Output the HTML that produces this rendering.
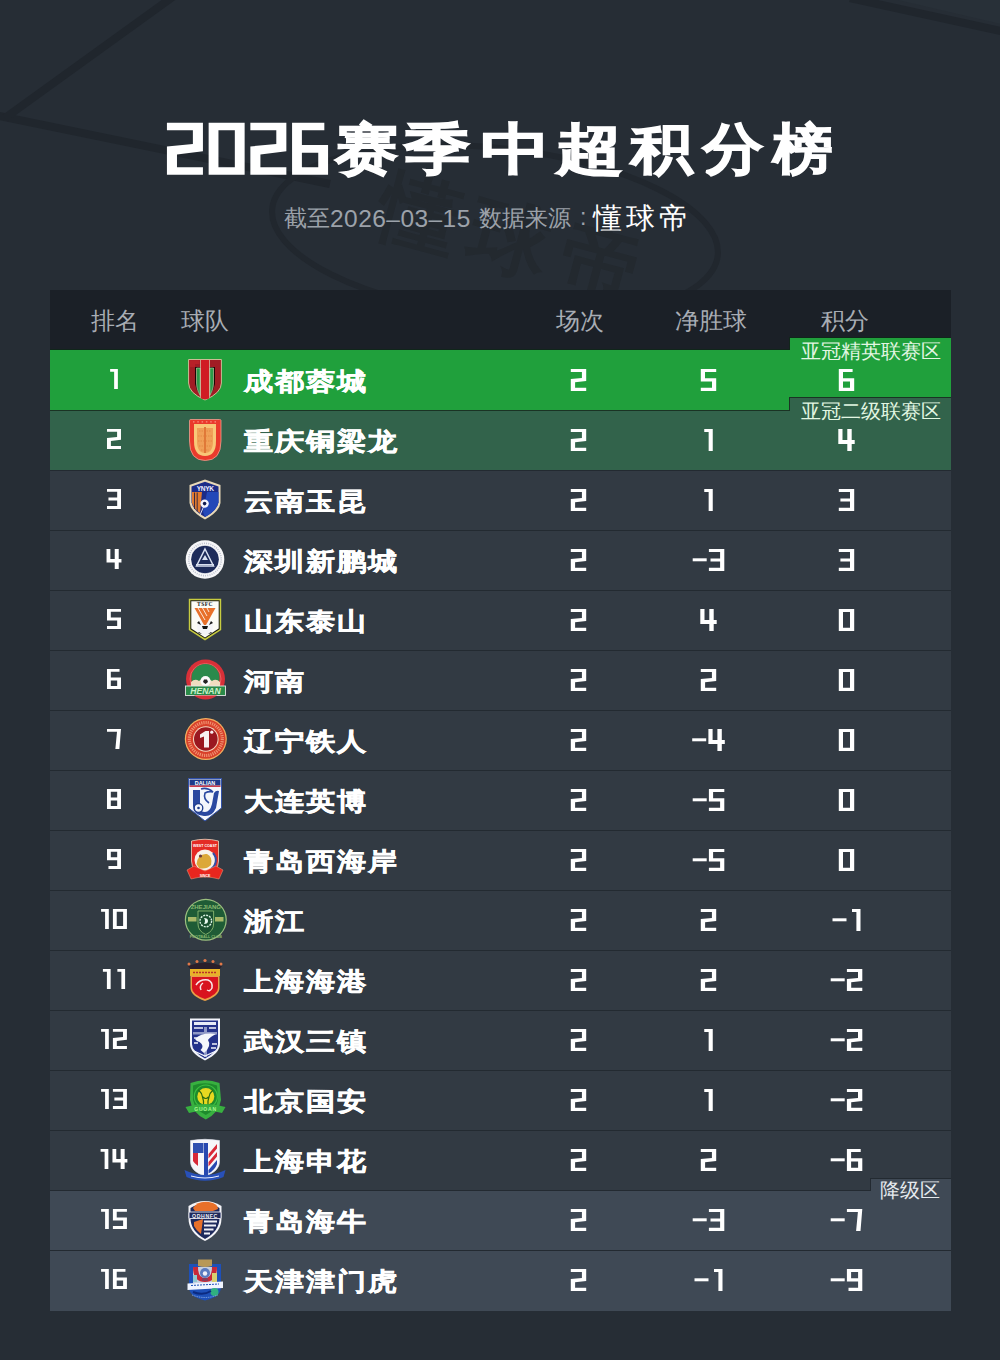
<!DOCTYPE html>
<html><head><meta charset="utf-8"><style>
html,body{margin:0;padding:0;}
body{width:1000px;height:1360px;position:relative;overflow:hidden;background:#262d35;font-family:"Liberation Sans",sans-serif;}
.abs{position:absolute;white-space:nowrap;}
.title{left:0;top:0;}
.tn{position:absolute;left:244px;font-size:29.5px;font-weight:bold;color:#fff;letter-spacing:1px;line-height:30px;-webkit-text-stroke:0.6px #fff;transform:scaleY(0.86);transform-origin:0 50%;}
.hd{position:absolute;top:306px;font-size:24px;color:#a8adb4;line-height:30px;}
.lab{position:absolute;left:801px;font-size:19.7px;color:#e2f6e2;line-height:22px;}
</style></head><body>
<svg class="abs" style="left:0;top:0" width="1000" height="1360">
<path d="M855,-10 L1010,-10 L1010,26 Z" fill="#283038"/>
<g fill="none" stroke="#20262d" stroke-width="8">
<path d="M-10,114 L330,184"/>
<path d="M174,-4 L5,118"/>
<path d="M850,-2 L1010,33"/>
</g>
<g transform="rotate(6 495 232)">
<ellipse cx="495" cy="232" rx="224" ry="84" fill="none" stroke="#21272e" stroke-width="6"/>
</g>
<text x="518" y="268" font-size="80" font-weight="bold" text-anchor="middle" fill="#23292f" letter-spacing="14" transform="rotate(15 518 236)">懂球帝</text>
</svg>
<div class="abs" style="left:326.8px;top:118px;width:80px;text-align:center;font-size:63px;font-weight:bold;color:#fff;line-height:70px;-webkit-text-stroke:1.5px #fff;transform:scale(1.010,0.88);transform-origin:50% 0;">赛</div>
<div class="abs" style="left:396.6px;top:118px;width:80px;text-align:center;font-size:63px;font-weight:bold;color:#fff;line-height:70px;-webkit-text-stroke:1.5px #fff;transform:scale(1.057,0.88);transform-origin:50% 0;">季</div>
<div class="abs" style="left:476.3px;top:118px;width:80px;text-align:center;font-size:63px;font-weight:bold;color:#fff;line-height:70px;-webkit-text-stroke:1.5px #fff;transform:scale(1.107,0.88);transform-origin:50% 0;">中</div>
<div class="abs" style="left:549.9px;top:118px;width:80px;text-align:center;font-size:63px;font-weight:bold;color:#fff;line-height:70px;-webkit-text-stroke:1.5px #fff;transform:scale(1.074,0.88);transform-origin:50% 0;">超</div>
<div class="abs" style="left:621.5px;top:118px;width:80px;text-align:center;font-size:63px;font-weight:bold;color:#fff;line-height:70px;-webkit-text-stroke:1.5px #fff;transform:scale(0.985,0.88);transform-origin:50% 0;">积</div>
<div class="abs" style="left:693.0px;top:118px;width:80px;text-align:center;font-size:63px;font-weight:bold;color:#fff;line-height:70px;-webkit-text-stroke:1.5px #fff;transform:scale(0.960,0.88);transform-origin:50% 0;">分</div>
<div class="abs" style="left:763.4px;top:118px;width:80px;text-align:center;font-size:63px;font-weight:bold;color:#fff;line-height:70px;-webkit-text-stroke:1.5px #fff;transform:scale(0.950,0.88);transform-origin:50% 0;">榜</div>
<div class="abs" style="left:284px;top:203px;font-size:23px;color:#9ca2aa;line-height:30px;">截至</div><div class="abs" style="left:330px;top:203.7px;font-size:24.5px;color:#9ca2aa;line-height:30px;letter-spacing:0.45px">2026–03–15</div><div class="abs" style="left:479px;top:203px;font-size:23px;color:#9ca2aa;line-height:30px;">数据来源</div><div class="abs" style="left:580px;top:202px;font-size:23px;color:#9ca2aa;line-height:30px;">:</div>
<div class="abs" style="left:593px;top:201px;font-size:29px;color:#fff;line-height:34px;letter-spacing:4px;">懂球帝</div>
<div class="abs" style="left:50px;top:290px;width:901px;height:60px;background:#1b2027"></div>
<div class="abs" style="left:50px;top:350px;width:901px;height:60px;background:#20a03c"></div>
<div class="abs" style="left:50px;top:410px;width:901px;height:60px;background:#32634b"></div>
<div class="abs" style="left:50px;top:410px;width:740px;height:1px;background:#1a3324"></div>
<div class="abs" style="left:50px;top:470px;width:901px;height:60px;background:#323a43"></div>
<div class="abs" style="left:50px;top:470px;width:901px;height:1px;background:#232a31"></div>
<div class="abs" style="left:50px;top:530px;width:901px;height:60px;background:#323a43"></div>
<div class="abs" style="left:50px;top:530px;width:901px;height:1px;background:#232a31"></div>
<div class="abs" style="left:50px;top:590px;width:901px;height:60px;background:#323a43"></div>
<div class="abs" style="left:50px;top:590px;width:901px;height:1px;background:#232a31"></div>
<div class="abs" style="left:50px;top:650px;width:901px;height:60px;background:#323a43"></div>
<div class="abs" style="left:50px;top:650px;width:901px;height:1px;background:#232a31"></div>
<div class="abs" style="left:50px;top:710px;width:901px;height:60px;background:#323a43"></div>
<div class="abs" style="left:50px;top:710px;width:901px;height:1px;background:#232a31"></div>
<div class="abs" style="left:50px;top:770px;width:901px;height:60px;background:#323a43"></div>
<div class="abs" style="left:50px;top:770px;width:901px;height:1px;background:#232a31"></div>
<div class="abs" style="left:50px;top:830px;width:901px;height:60px;background:#323a43"></div>
<div class="abs" style="left:50px;top:830px;width:901px;height:1px;background:#232a31"></div>
<div class="abs" style="left:50px;top:890px;width:901px;height:60px;background:#323a43"></div>
<div class="abs" style="left:50px;top:890px;width:901px;height:1px;background:#232a31"></div>
<div class="abs" style="left:50px;top:950px;width:901px;height:60px;background:#323a43"></div>
<div class="abs" style="left:50px;top:950px;width:901px;height:1px;background:#232a31"></div>
<div class="abs" style="left:50px;top:1010px;width:901px;height:60px;background:#323a43"></div>
<div class="abs" style="left:50px;top:1010px;width:901px;height:1px;background:#232a31"></div>
<div class="abs" style="left:50px;top:1070px;width:901px;height:60px;background:#323a43"></div>
<div class="abs" style="left:50px;top:1070px;width:901px;height:1px;background:#232a31"></div>
<div class="abs" style="left:50px;top:1130px;width:901px;height:60px;background:#323a43"></div>
<div class="abs" style="left:50px;top:1130px;width:901px;height:1px;background:#232a31"></div>
<div class="abs" style="left:50px;top:1190px;width:901px;height:60px;background:#3f4955"></div>
<div class="abs" style="left:50px;top:1190px;width:821px;height:1px;background:#232a31"></div>
<div class="abs" style="left:50px;top:1250px;width:901px;height:61px;background:#3f4955"></div>
<div class="abs" style="left:50px;top:1250px;width:901px;height:1px;background:#232a31"></div>
<div class="abs" style="left:790px;top:338px;width:161px;height:12px;background:#20a03c"></div>
<div class="abs" style="left:50px;top:349px;width:740px;height:1px;background:#10261a"></div>
<div class="abs" style="left:789px;top:337px;width:162px;height:1px;background:#10261a"></div>
<div class="abs" style="left:789px;top:337px;width:1px;height:13px;background:#10261a"></div>
<div class="abs" style="left:790px;top:398px;width:161px;height:12px;background:#32634b"></div>
<div class="abs" style="left:789px;top:397px;width:162px;height:1px;background:#1a3324"></div>
<div class="abs" style="left:789px;top:397px;width:1px;height:13px;background:#1a3324"></div>
<div class="abs" style="left:871px;top:1179px;width:80px;height:11px;background:#3f4955"></div>
<div class="abs" style="left:870px;top:1178px;width:81px;height:1px;background:#232a31"></div>
<div class="abs" style="left:870px;top:1178px;width:1px;height:12px;background:#232a31"></div>
<div class="hd" style="left:91.0px;width:48px;text-align:center">排名</div>
<div class="hd" style="left:556.0px;width:48px;text-align:center">场次</div>
<div class="hd" style="left:675.0px;width:72px;text-align:center">净胜球</div>
<div class="hd" style="left:821.0px;width:48px;text-align:center">积分</div>
<div class="hd" style="left:181px">球队</div>
<div class="lab" style="top:340px">亚冠精英联赛区</div>
<div class="lab" style="top:400px">亚冠二级联赛区</div>
<div class="lab" style="top:1179px;left:880px;color:#e6eaee">降级区</div>
<div class="tn" style="top:366px">成都蓉城</div>
<div class="tn" style="top:426px">重庆铜梁龙</div>
<div class="tn" style="top:486px">云南玉昆</div>
<div class="tn" style="top:546px">深圳新鹏城</div>
<div class="tn" style="top:606px">山东泰山</div>
<div class="tn" style="top:666px">河南</div>
<div class="tn" style="top:726px">辽宁铁人</div>
<div class="tn" style="top:786px">大连英博</div>
<div class="tn" style="top:846px">青岛西海岸</div>
<div class="tn" style="top:906px">浙江</div>
<div class="tn" style="top:966px">上海海港</div>
<div class="tn" style="top:1026px">武汉三镇</div>
<div class="tn" style="top:1086px">北京国安</div>
<div class="tn" style="top:1146px">上海申花</div>
<div class="tn" style="top:1206px">青岛海牛</div>
<div class="tn" style="top:1266px">天津津门虎</div>
<svg class="abs" style="left:0;top:0" width="1000" height="1360"><g fill="#fff"><path transform="translate(166.93,122.80) scale(2.3377,2.3636)" d="M0,0H15.4V12L4.3,13.4V18.8H15.4V22H0V10L11.1,9V3.2H0Z"/><path transform="translate(208.64,122.80) scale(2.3377,2.3636)" d="M0,0H15.4V22H0Z M4.2,3.2V18.8H11.2V3.2Z"/><path transform="translate(250.36,122.80) scale(2.3377,2.3636)" d="M0,0H15.4V12L4.3,13.4V18.8H15.4V22H0V10L11.1,9V3.2H0Z"/><path transform="translate(292.07,122.80) scale(2.3377,2.3636)" d="M0,0H13.8V3.2H4.2V9.4H15.4V22H0Z M4.2,12.7V18.8H11.2V12.7Z"/><path transform="translate(110.13,368.90) scale(0.9100,0.9100)" d="M0,0H8.5V22H4.4V3H0Z"/><path transform="translate(570.80,368.90) scale(1.0000,1.0000)" d="M0,0H15.4V12L4.3,13.4V18.8H15.4V22H0V10L11.1,9V3.2H0Z"/><path transform="translate(700.80,368.90) scale(1.0000,1.0000)" d="M0,0H15.4V3.2H4.2V9.4H15.4V22H0V18.8H11.2V12.7H0Z"/><path transform="translate(838.80,368.90) scale(1.0000,1.0000)" d="M0,0H13.8V3.2H4.2V9.4H15.4V22H0Z M4.2,12.7V18.8H11.2V12.7Z"/><path transform="translate(106.99,428.90) scale(0.9100,0.9100)" d="M0,0H15.4V12L4.3,13.4V18.8H15.4V22H0V10L11.1,9V3.2H0Z"/><path transform="translate(570.80,428.90) scale(1.0000,1.0000)" d="M0,0H15.4V12L4.3,13.4V18.8H15.4V22H0V10L11.1,9V3.2H0Z"/><path transform="translate(704.25,428.90) scale(1.0000,1.0000)" d="M0,0H8.5V22H4.4V3H0Z"/><path transform="translate(838.30,428.90) scale(1.0000,1.0000)" d="M0,0H4.2V11H9V0H13.4V11H16.4V15H13.4V22H9V15H0Z"/><path transform="translate(106.99,488.90) scale(0.9100,0.9100)" d="M0,0H15.4V22H0V18.8H11.2V12.7H1.6V9.5H11.2V3.2H0Z"/><path transform="translate(570.80,488.90) scale(1.0000,1.0000)" d="M0,0H15.4V12L4.3,13.4V18.8H15.4V22H0V10L11.1,9V3.2H0Z"/><path transform="translate(704.25,488.90) scale(1.0000,1.0000)" d="M0,0H8.5V22H4.4V3H0Z"/><path transform="translate(838.80,488.90) scale(1.0000,1.0000)" d="M0,0H15.4V22H0V18.8H11.2V12.7H1.6V9.5H11.2V3.2H0Z"/><path transform="translate(106.54,548.90) scale(0.9100,0.9100)" d="M0,0H4.2V11H9V0H13.4V11H16.4V15H13.4V22H9V15H0Z"/><path transform="translate(570.80,548.90) scale(1.0000,1.0000)" d="M0,0H15.4V12L4.3,13.4V18.8H15.4V22H0V10L11.1,9V3.2H0Z"/><path transform="translate(692.70,548.90) scale(1.0000,1.0000)" d="M0,9.4H14V12.4H0Z"/><path transform="translate(708.90,548.90) scale(1.0000,1.0000)" d="M0,0H15.4V22H0V18.8H11.2V12.7H1.6V9.5H11.2V3.2H0Z"/><path transform="translate(838.80,548.90) scale(1.0000,1.0000)" d="M0,0H15.4V22H0V18.8H11.2V12.7H1.6V9.5H11.2V3.2H0Z"/><path transform="translate(106.99,608.90) scale(0.9100,0.9100)" d="M0,0H15.4V3.2H4.2V9.4H15.4V22H0V18.8H11.2V12.7H0Z"/><path transform="translate(570.80,608.90) scale(1.0000,1.0000)" d="M0,0H15.4V12L4.3,13.4V18.8H15.4V22H0V10L11.1,9V3.2H0Z"/><path transform="translate(700.30,608.90) scale(1.0000,1.0000)" d="M0,0H4.2V11H9V0H13.4V11H16.4V15H13.4V22H9V15H0Z"/><path transform="translate(838.80,608.90) scale(1.0000,1.0000)" d="M0,0H15.4V22H0Z M4.2,3.2V18.8H11.2V3.2Z"/><path transform="translate(106.99,668.90) scale(0.9100,0.9100)" d="M0,0H13.8V3.2H4.2V9.4H15.4V22H0Z M4.2,12.7V18.8H11.2V12.7Z"/><path transform="translate(570.80,668.90) scale(1.0000,1.0000)" d="M0,0H15.4V12L4.3,13.4V18.8H15.4V22H0V10L11.1,9V3.2H0Z"/><path transform="translate(700.80,668.90) scale(1.0000,1.0000)" d="M0,0H15.4V12L4.3,13.4V18.8H15.4V22H0V10L11.1,9V3.2H0Z"/><path transform="translate(838.80,668.90) scale(1.0000,1.0000)" d="M0,0H15.4V22H0Z M4.2,3.2V18.8H11.2V3.2Z"/><path transform="translate(106.99,728.90) scale(0.9100,0.9100)" d="M0,0H15.4L13.6,22H9.2L11,3.2H0Z"/><path transform="translate(570.80,728.90) scale(1.0000,1.0000)" d="M0,0H15.4V12L4.3,13.4V18.8H15.4V22H0V10L11.1,9V3.2H0Z"/><path transform="translate(692.20,728.90) scale(1.0000,1.0000)" d="M0,9.4H14V12.4H0Z"/><path transform="translate(708.40,728.90) scale(1.0000,1.0000)" d="M0,0H4.2V11H9V0H13.4V11H16.4V15H13.4V22H9V15H0Z"/><path transform="translate(838.80,728.90) scale(1.0000,1.0000)" d="M0,0H15.4V22H0Z M4.2,3.2V18.8H11.2V3.2Z"/><path transform="translate(106.99,788.90) scale(0.9100,0.9100)" d="M0,0H15.4V22H0Z M4.2,3.2V9.4H11.2V3.2Z M4.2,12.7V18.8H11.2V12.7Z"/><path transform="translate(570.80,788.90) scale(1.0000,1.0000)" d="M0,0H15.4V12L4.3,13.4V18.8H15.4V22H0V10L11.1,9V3.2H0Z"/><path transform="translate(692.70,788.90) scale(1.0000,1.0000)" d="M0,9.4H14V12.4H0Z"/><path transform="translate(708.90,788.90) scale(1.0000,1.0000)" d="M0,0H15.4V3.2H4.2V9.4H15.4V22H0V18.8H11.2V12.7H0Z"/><path transform="translate(838.80,788.90) scale(1.0000,1.0000)" d="M0,0H15.4V22H0Z M4.2,3.2V18.8H11.2V3.2Z"/><path transform="translate(106.99,848.90) scale(0.9100,0.9100)" d="M15.4,22H1.6V18.8H11.2V12.6H0V0H15.4Z M11.2,9.3V3.2H4.2V9.3Z"/><path transform="translate(570.80,848.90) scale(1.0000,1.0000)" d="M0,0H15.4V12L4.3,13.4V18.8H15.4V22H0V10L11.1,9V3.2H0Z"/><path transform="translate(692.70,848.90) scale(1.0000,1.0000)" d="M0,9.4H14V12.4H0Z"/><path transform="translate(708.90,848.90) scale(1.0000,1.0000)" d="M0,0H15.4V3.2H4.2V9.4H15.4V22H0V18.8H11.2V12.7H0Z"/><path transform="translate(838.80,848.90) scale(1.0000,1.0000)" d="M0,0H15.4V22H0Z M4.2,3.2V18.8H11.2V3.2Z"/><path transform="translate(101.08,908.90) scale(0.9100,0.9100)" d="M0,0H8.5V22H4.4V3H0Z"/><path transform="translate(112.91,908.90) scale(0.9100,0.9100)" d="M0,0H15.4V22H0Z M4.2,3.2V18.8H11.2V3.2Z"/><path transform="translate(570.80,908.90) scale(1.0000,1.0000)" d="M0,0H15.4V12L4.3,13.4V18.8H15.4V22H0V10L11.1,9V3.2H0Z"/><path transform="translate(700.80,908.90) scale(1.0000,1.0000)" d="M0,0H15.4V12L4.3,13.4V18.8H15.4V22H0V10L11.1,9V3.2H0Z"/><path transform="translate(832.50,908.90) scale(1.0000,1.0000)" d="M0,9.4H14V12.4H0Z"/><path transform="translate(852.00,908.90) scale(1.0000,1.0000)" d="M0,0H8.5V22H4.4V3H0Z"/><path transform="translate(102.90,968.90) scale(0.9100,0.9100)" d="M0,0H8.5V22H4.4V3H0Z"/><path transform="translate(117.37,968.90) scale(0.9100,0.9100)" d="M0,0H8.5V22H4.4V3H0Z"/><path transform="translate(570.80,968.90) scale(1.0000,1.0000)" d="M0,0H15.4V12L4.3,13.4V18.8H15.4V22H0V10L11.1,9V3.2H0Z"/><path transform="translate(700.80,968.90) scale(1.0000,1.0000)" d="M0,0H15.4V12L4.3,13.4V18.8H15.4V22H0V10L11.1,9V3.2H0Z"/><path transform="translate(830.70,968.90) scale(1.0000,1.0000)" d="M0,9.4H14V12.4H0Z"/><path transform="translate(846.90,968.90) scale(1.0000,1.0000)" d="M0,0H15.4V12L4.3,13.4V18.8H15.4V22H0V10L11.1,9V3.2H0Z"/><path transform="translate(101.08,1028.90) scale(0.9100,0.9100)" d="M0,0H8.5V22H4.4V3H0Z"/><path transform="translate(112.91,1028.90) scale(0.9100,0.9100)" d="M0,0H15.4V12L4.3,13.4V18.8H15.4V22H0V10L11.1,9V3.2H0Z"/><path transform="translate(570.80,1028.90) scale(1.0000,1.0000)" d="M0,0H15.4V12L4.3,13.4V18.8H15.4V22H0V10L11.1,9V3.2H0Z"/><path transform="translate(704.25,1028.90) scale(1.0000,1.0000)" d="M0,0H8.5V22H4.4V3H0Z"/><path transform="translate(830.70,1028.90) scale(1.0000,1.0000)" d="M0,9.4H14V12.4H0Z"/><path transform="translate(846.90,1028.90) scale(1.0000,1.0000)" d="M0,0H15.4V12L4.3,13.4V18.8H15.4V22H0V10L11.1,9V3.2H0Z"/><path transform="translate(101.08,1088.90) scale(0.9100,0.9100)" d="M0,0H8.5V22H4.4V3H0Z"/><path transform="translate(112.91,1088.90) scale(0.9100,0.9100)" d="M0,0H15.4V22H0V18.8H11.2V12.7H1.6V9.5H11.2V3.2H0Z"/><path transform="translate(570.80,1088.90) scale(1.0000,1.0000)" d="M0,0H15.4V12L4.3,13.4V18.8H15.4V22H0V10L11.1,9V3.2H0Z"/><path transform="translate(704.25,1088.90) scale(1.0000,1.0000)" d="M0,0H8.5V22H4.4V3H0Z"/><path transform="translate(830.70,1088.90) scale(1.0000,1.0000)" d="M0,9.4H14V12.4H0Z"/><path transform="translate(846.90,1088.90) scale(1.0000,1.0000)" d="M0,0H15.4V12L4.3,13.4V18.8H15.4V22H0V10L11.1,9V3.2H0Z"/><path transform="translate(100.62,1148.90) scale(0.9100,0.9100)" d="M0,0H8.5V22H4.4V3H0Z"/><path transform="translate(112.45,1148.90) scale(0.9100,0.9100)" d="M0,0H4.2V11H9V0H13.4V11H16.4V15H13.4V22H9V15H0Z"/><path transform="translate(570.80,1148.90) scale(1.0000,1.0000)" d="M0,0H15.4V12L4.3,13.4V18.8H15.4V22H0V10L11.1,9V3.2H0Z"/><path transform="translate(700.80,1148.90) scale(1.0000,1.0000)" d="M0,0H15.4V12L4.3,13.4V18.8H15.4V22H0V10L11.1,9V3.2H0Z"/><path transform="translate(830.70,1148.90) scale(1.0000,1.0000)" d="M0,9.4H14V12.4H0Z"/><path transform="translate(846.90,1148.90) scale(1.0000,1.0000)" d="M0,0H13.8V3.2H4.2V9.4H15.4V22H0Z M4.2,12.7V18.8H11.2V12.7Z"/><path transform="translate(101.08,1208.90) scale(0.9100,0.9100)" d="M0,0H8.5V22H4.4V3H0Z"/><path transform="translate(112.91,1208.90) scale(0.9100,0.9100)" d="M0,0H15.4V3.2H4.2V9.4H15.4V22H0V18.8H11.2V12.7H0Z"/><path transform="translate(570.80,1208.90) scale(1.0000,1.0000)" d="M0,0H15.4V12L4.3,13.4V18.8H15.4V22H0V10L11.1,9V3.2H0Z"/><path transform="translate(692.70,1208.90) scale(1.0000,1.0000)" d="M0,9.4H14V12.4H0Z"/><path transform="translate(708.90,1208.90) scale(1.0000,1.0000)" d="M0,0H15.4V22H0V18.8H11.2V12.7H1.6V9.5H11.2V3.2H0Z"/><path transform="translate(830.70,1208.90) scale(1.0000,1.0000)" d="M0,9.4H14V12.4H0Z"/><path transform="translate(846.90,1208.90) scale(1.0000,1.0000)" d="M0,0H15.4L13.6,22H9.2L11,3.2H0Z"/><path transform="translate(101.08,1268.90) scale(0.9100,0.9100)" d="M0,0H8.5V22H4.4V3H0Z"/><path transform="translate(112.91,1268.90) scale(0.9100,0.9100)" d="M0,0H13.8V3.2H4.2V9.4H15.4V22H0Z M4.2,12.7V18.8H11.2V12.7Z"/><path transform="translate(570.80,1268.90) scale(1.0000,1.0000)" d="M0,0H15.4V12L4.3,13.4V18.8H15.4V22H0V10L11.1,9V3.2H0Z"/><path transform="translate(694.50,1268.90) scale(1.0000,1.0000)" d="M0,9.4H14V12.4H0Z"/><path transform="translate(714.00,1268.90) scale(1.0000,1.0000)" d="M0,0H8.5V22H4.4V3H0Z"/><path transform="translate(830.70,1268.90) scale(1.0000,1.0000)" d="M0,9.4H14V12.4H0Z"/><path transform="translate(846.90,1268.90) scale(1.0000,1.0000)" d="M15.4,22H1.6V18.8H11.2V12.6H0V0H15.4Z M11.2,9.3V3.2H4.2V9.3Z"/></g><g transform="translate(185,359)"><path d="M3.6,0.5H36.4V24Q36.4,34 20,41Q3.6,34 3.6,24Z" fill="#a01c24" stroke="#d8c8a0" stroke-width="0.9"/><path d="M10,8H15.5V37Q11,31 10,25Z" fill="#1a0606"/><path d="M24.5,8H30V25Q29,31 24.5,37Z" fill="#1a0606"/><path d="M11.5,9H15.2V36.5L13,32Q11.5,28 11.5,24Z" fill="#2a9a48" stroke="#d0d8b0" stroke-width="0.6"/><path d="M24.8,9H28.5V24Q28.5,28 27,32L24.8,36.5Z" fill="#2a9a48" stroke="#d0d8b0" stroke-width="0.6"/><path d="M16,1H24V39.5Q20,41 16,39.5Z" fill="#d01c24"/><path d="M4.5,1.2H14.5V5H10V8H4.5Z" fill="#b82028"/><path d="M15.5,1V38M24.5,1V38" stroke="#e0d0b0" stroke-width="0.7"/></g><g transform="translate(185,419)"><path d="M4.5,1.5Q4.5,0.5 6,0.5H34.5Q36,0.5 36,1.5V22Q36,41.5 20.2,41.5Q4.5,41.5 4.5,22Z" fill="#ea3a2c" stroke="#f0a090" stroke-width="0.8"/><path d="M9,5H31V22Q31,37 20,37Q9,37 9,22Z" fill="#f8c878"/><path d="M12,9H28V22Q28,34 20,34Q12,34 12,22Z" fill="#f0a058"/><path d="M14,12H26M13,17H27M13,22H27M14,27H26M16,31H24" stroke="#e8904a" stroke-width="1.4" stroke-dasharray="1.5 1"/><path d="M20,8V34" stroke="#e07838" stroke-width="2"/><path d="M8,2.8H32" stroke="#f89080" stroke-width="1.2" stroke-dasharray="1.5 2.8"/></g><g transform="translate(185,479)"><path d="M20,0.6L35.5,6V24Q34,33 20,40.5Q6,33 4.5,24V6Z" fill="#e8d8b8"/><path d="M20,2.8L33.5,7.4V23.5Q32,31.5 20,38Q8,31.5 6.5,23.5V7.4Z" fill="#1c2c88"/><path d="M7,13H17L15,34Q9,30 7,24Z" fill="#e07a30"/><path d="M9.5,13.5V30M12.2,13.5V32.5" stroke="#3a2a40" stroke-width="1"/><path d="M25,13L15,36" stroke="#f0f0ff" stroke-width="0.9"/><path d="M22,13H33.5V23.5Q32,31.5 20,38L18,33Z" fill="#2448b8"/><text x="20.2" y="12" font-size="6.6" font-weight="bold" text-anchor="middle" fill="#f0f0ff" font-family="Liberation Sans" letter-spacing="-0.3">YNYK</text><circle cx="19.6" cy="24.6" r="4.2" fill="#f4f4ff"/><circle cx="19.6" cy="24.6" r="1.8" fill="#101a50"/></g><g transform="translate(185,539)"><circle cx="20" cy="20.5" r="19.3" fill="#f6f6f8"/><circle cx="20" cy="20.5" r="16.2" fill="none" stroke="#b8bccb" stroke-width="1.6" stroke-dasharray="0.9 1.3"/><circle cx="20" cy="20.5" r="14" fill="#1d2b5a"/><circle cx="20" cy="20.5" r="14.3" fill="none" stroke="#ffffff" stroke-width="0.6"/><path d="M20,10L28.5,27H11.5Z" fill="none" stroke="#d8e0f0" stroke-width="1.5"/><path d="M17,21L20,16L23,21Z" fill="#d8e0f0"/><path d="M11,25.5H29" stroke="#d8e0f0" stroke-width="1"/></g><g transform="translate(185,599)"><path d="M3.8,-0.3H36.2V31L20,41.4L3.8,31Z" fill="#c8cc40"/><path d="M5.3,1.2H34.7V30.2L20,39.6L5.3,30.2Z" fill="#1a1a10"/><path d="M6.3,2.2H33.7V29.6L20,38.4L6.3,29.6Z" fill="#fbfbf6"/><text x="20" y="7" font-size="5.6" font-weight="bold" text-anchor="middle" fill="#1a1a1a" font-family="Liberation Serif" letter-spacing="0.4">TSFC</text><circle cx="20" cy="28" r="8" fill="#f4f4f8"/><path d="M9.5,9H30.5L21,26H19Z" fill="#e8702a"/><path d="M13,9L20,21M17.5,9L22,17M22,9L24,13" stroke="#fbe8d8" stroke-width="1"/><path d="M12,24L14,22L16,26Z M28,24L26,22L24,26Z M17,27H23L22,30H18Z M14,33L17,35L13,34Z M26,33L23,35L27,34Z" fill="#151515"/></g><g transform="translate(185,659)"><circle cx="20.5" cy="20" r="19.5" fill="#d83038"/><circle cx="20.5" cy="20" r="15.5" fill="none" stroke="#e86060" stroke-width="1"/><circle cx="20.5" cy="19" r="14" fill="#2a8a4c"/><path d="M6,23Q10,19 14,22Q17,19 20,21Q24,19 27,22Q31,19 35,23V28H6Z" fill="#f0dcc0"/><circle cx="20.5" cy="22" r="5" fill="#fafafa"/><path d="M19,20.5L22,20.5L23,23L20.5,25L18,23Z" fill="#222"/><rect x="0.5" y="27" width="40" height="9.5" fill="#2a8a48" stroke="#e4e4e4" stroke-width="0.9"/><text x="20.5" y="35.2" font-size="8.6" font-weight="bold" font-style="italic" text-anchor="middle" fill="#c8f0c8" font-family="Liberation Sans">HENAN</text><path d="M9,36.5H32Q27,40.5 20.5,40.5Q14,40.5 9,36.5Z" fill="#d83038"/></g><g transform="translate(185,719)"><circle cx="20.8" cy="20" r="21" fill="#f4b060"/><circle cx="20.8" cy="20" r="19.8" fill="#d8402a"/><circle cx="20.8" cy="20" r="16.5" fill="none" stroke="#f09070" stroke-width="3.2" stroke-dasharray="1.2 1"/><circle cx="20.8" cy="20" r="12.8" fill="#f4d8c0"/><circle cx="20.8" cy="20" r="11.8" fill="#9a1820"/><path d="M15,15.5L20.5,12H24V28.5H19V17.5L15,19Z" fill="#f8f0f0"/><circle cx="26.8" cy="13.2" r="1.6" fill="#f8f0f0"/></g><g transform="translate(185,779)"><path d="M3.5,-0.5H36.5V29L20,42L3.5,29Z" fill="#f4f6fb" stroke="#3050a8" stroke-width="1"/><path d="M4.5,0.5H35.5V6.5H4.5Z" fill="#1e3a8a"/><text x="20" y="5.6" font-size="5.4" font-weight="bold" text-anchor="middle" fill="#ffffff" font-family="Liberation Sans">DALIAN</text><rect x="4.5" y="6.5" width="31" height="1.4" fill="#c82a3a"/><path d="M8,11H15V27Q15,33 20,33Q25,33 27,25L29,14Q31,11 34,12L31,29Q27,38 19,37Q8,36 8,27Z" fill="#2a48a0"/><path d="M16,10Q22,8 28,13Q24,12 20,14Q18,20 24,24" fill="none" stroke="#2a48a0" stroke-width="1.6"/><circle cx="13.5" cy="29" r="4.3" fill="#f4f6fb" stroke="#1e3a8a" stroke-width="1.3"/><circle cx="13.5" cy="29" r="1.3" fill="#1e3a8a"/></g><g transform="translate(185,839)"><path d="M6.5,2Q20,-1.5 33.5,2V22Q33.5,32 20,38Q6.5,32 6.5,22Z" fill="#e42a24" stroke="#f0d8c0" stroke-width="0.8"/><text x="20" y="7.6" font-size="3.6" font-weight="bold" text-anchor="middle" fill="#fff" font-family="Liberation Sans">WEST COAST</text><circle cx="20" cy="21" r="10.5" fill="#f8f2e8"/><path d="M28,14A10.5,10.5 0 0 1 26,30" stroke="#3050a8" stroke-width="2" fill="none"/><path d="M11.5,25Q13,14 22,15Q28,18 26,26Q21,31 14,29Z" fill="#dca838"/><circle cx="15.5" cy="17" r="1.6" fill="#6a3a3a"/><path d="M2,31L9,27L20,32L31,27L38,31L34,40Q20,36 6,40Z" fill="#e8261e" stroke="#f0a080" stroke-width="0.5"/><text x="20" y="37.6" font-size="3.5" font-weight="bold" text-anchor="middle" fill="#fff" font-family="Liberation Sans">SINCE</text></g><g transform="translate(185,899)"><circle cx="20.8" cy="20.8" r="21" fill="#9cc080"/><circle cx="20.8" cy="20.8" r="19.8" fill="#1f5c36"/><text x="20.8" y="10" font-size="6" font-weight="bold" text-anchor="middle" fill="#8ab870" font-family="Liberation Sans">ZHEJIANG</text><path d="M13,12H28.6V25Q28.6,32 20.8,35.5Q13,32 13,25Z" fill="#1a5030" stroke="#8ab870" stroke-width="0.9"/><rect x="3" y="18" width="8.5" height="4.5" fill="#a8b868"/><rect x="30" y="18" width="8.5" height="4.5" fill="#a8b868"/><circle cx="20.8" cy="22" r="5.8" fill="none" stroke="#d8f0e0" stroke-width="1.4" stroke-dasharray="2 1"/><path d="M19,19Q23,19 23,22Q23,25 19,25Q21,22 19,19Z" fill="#e8f8f0"/><text x="20.8" y="38.5" font-size="3.8" font-weight="bold" text-anchor="middle" fill="#8ab870" font-family="Liberation Sans">FOOTBALL CLUB</text></g><g transform="translate(185,959)"><path d="M3,7Q20,0 37,7L34,11H6Z" fill="#2a1e2a"/><circle cx="4" cy="5" r="1.5" fill="#e07848"/><circle cx="12" cy="2.5" r="1.5" fill="#e07848"/><circle cx="20" cy="1.5" r="1.6" fill="#e07848"/><circle cx="28" cy="2.5" r="1.5" fill="#e07848"/><circle cx="36" cy="5" r="1.5" fill="#e07848"/><path d="M5,10H35V17H5Z" fill="#e8b428"/><path d="M8,13.5H32" stroke="#b8302a" stroke-width="1.6" stroke-dasharray="2 1"/><path d="M5.5,16.5H34.5V29Q34.5,37 20,42Q5.5,37 5.5,29Z" fill="#e8a048"/><path d="M7,18H33V29Q33,35.5 20,40Q7,35.5 7,29Z" fill="#d8141e"/><path d="M11,26Q15,20 23,21Q28,23 27,29Q25,33 22,31M18,24Q14,27 16,31" fill="none" stroke="#f8e8e8" stroke-width="1.5"/></g><g transform="translate(185,1019)"><path d="M5,-0.5H35V25Q35,34 20,41.5Q5,34 5,25Z" fill="#f2f4fa"/><path d="M7,1.5H33V25Q33,32.5 20,39.5Q7,32.5 7,25Z" fill="#24328a"/><rect x="9" y="3" width="22" height="3" fill="#e8ecf8"/><path d="M19,8H22V38H19Z M8,13H32V15.5H8Z" fill="#e8ecf8" opacity="0.55"/><path d="M9,9H18M9,19H14M9,24H13M24,9H31M27,25H32M26,29H31" stroke="#f0f2fa" stroke-width="1.3"/><path d="M10,20Q17,13 31,15Q25,18 23,21Q27,27 19,34L15.5,31Q20,27 14.5,23Q12,23 10,20Z" fill="#f4f6fb"/><path d="M9,32L20,37L31,32" fill="none" stroke="#f4f6fb" stroke-width="1.2"/></g><g transform="translate(185,1079)"><path d="M5.5,4Q20,-1.5 34.5,4L36,21Q34,34 20.8,40.5Q7,34 5,21Z" fill="#38b040"/><path d="M8,6.5Q20,2 32,6.5L33,21Q31,31 20.8,36Q10,31 8,21Z" fill="#1e8a2c"/><circle cx="20.8" cy="17.5" r="11.5" fill="none" stroke="#3cc040" stroke-width="1.2"/><circle cx="20.8" cy="17.5" r="8.5" fill="#e8d820"/><path d="M13.5,11Q17,14 17.5,18Q19,22 18.5,26M28,11Q24.5,14 24,18Q22.5,22 23,26M18,18Q20.8,21 23.5,18" fill="none" stroke="#2a6a10" stroke-width="1.2"/><path d="M0.5,28Q20,22 40.5,28L37,34Q20,29 4,34Z" fill="#38b040"/><text x="20.5" y="31.8" font-size="5" font-weight="bold" text-anchor="middle" fill="#a8f890" font-family="Liberation Sans" letter-spacing="0.8">GUOAN</text></g><g transform="translate(185,1139)"><path d="M5.5,1.5Q20,-1 34.5,1.5V23Q34.5,32 20,37.5Q5.5,32 5.5,23Z" fill="#f6f6fa" stroke="#e0e4f0" stroke-width="0.6"/><path d="M8,4H18.5V14H8Z" fill="#3050b0"/><path d="M8,14H13V27Q9,24 8,22Z" fill="#d82838"/><path d="M19,4H23V36H19Z" fill="#2848b0"/><path d="M23.5,15L32,5V9.5L23.5,19.5Z M23.5,23L32,13V17.5L23.5,27.5Z" fill="#d82838"/><path d="M23.5,31L32,21V25Q30,31 23.5,34.5Z" fill="#2848b0"/><path d="M-0.5,31Q20,41 40.5,31L38.5,38Q20,45.5 1.5,38Z" fill="#2850b8"/><path d="M6,37Q20,41 34,37" stroke="#e8ecff" stroke-width="1" fill="none"/></g><g transform="translate(185,1199)"><path d="M3.5,7Q20,-3 36.5,7V19Q36.5,34 20,42Q3.5,34 3.5,19Z" fill="#f4f4f8"/><path d="M5.5,9Q20,0 34.5,9V19Q34.5,32 20,40Q5.5,32 5.5,19Z" fill="#1e2a5c"/><path d="M8,9Q14,0 28,4Q33,6 33,10L28,12H10Z" fill="#e8702a"/><rect x="4" y="13" width="32" height="6.5" rx="1" fill="#1e2a5c" stroke="#e8e8f0" stroke-width="0.9"/><text x="20" y="18.6" font-size="5.2" font-weight="bold" text-anchor="middle" fill="#f0f0f8" font-family="Liberation Sans" letter-spacing="0.6">QDHNFC</text><path d="M9,23L18,20L16,35Q11,31 9,27Z" fill="#e8702a"/><path d="M19,22.5H32M19,26.5H31M19,30.5H28.5M19,34.5H25" stroke="#f0f0f6" stroke-width="1.8"/></g><g transform="translate(185,1259)"><path d="M4,5H36V28Q36,38 20,41.5Q4,38 4,28Z" fill="#1e50b8"/><path d="M8,8H32V24H8Z" fill="#c8d0e0"/><path d="M8,8Q8,23 20,23Q32,23 32,8H27Q27,19 20,19Q13,19 13,8Z" fill="#c82838"/><path d="M27,14H32V23H27Z" fill="#d8d070"/><path d="M8,16H12V23H8Z" fill="#90c8d0"/><circle cx="20" cy="14" r="5" fill="#5a7ac0"/><circle cx="20" cy="14.5" r="2.2" fill="#f0f0f8"/><path d="M17,19H23V22H17Z" fill="#8a3a5a"/><path d="M13,0.5H27V7Q20,9 13,7Z" fill="#b89858"/><path d="M2.5,24.5L38,22.5V29L2.5,31Z" fill="#f0f4ff"/><path d="M6,26.5L34,25" stroke="#1e50b8" stroke-width="1" stroke-dasharray="2 1"/><circle cx="29.5" cy="33" r="4" fill="#30b080"/><path d="M8,33Q18,37 26,32" stroke="#0c2a80" stroke-width="2" fill="none"/><path d="M7,36Q20,41 33,36" stroke="#a0c0f0" stroke-width="0.8" fill="none" stroke-dasharray="1 0.8"/></g></svg>
</body></html>
